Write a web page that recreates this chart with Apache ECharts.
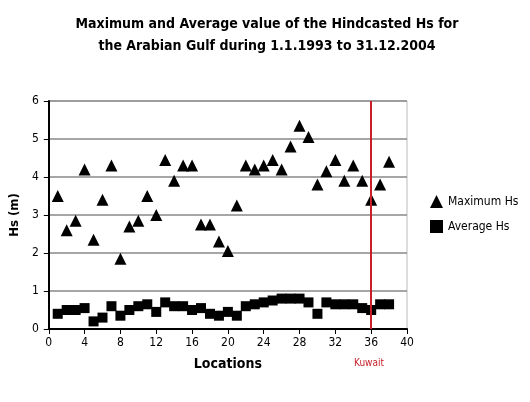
<!DOCTYPE html>
<html>
<head>
<meta charset="utf-8">
<script src="https://cdn.jsdelivr.net/npm/echarts@6/dist/echarts.min.js"></script>
<style>body{margin:0;background:#fff}#c{width:530px;height:402px}</style>
</head>
<body>
<div id="c"></div>
<script>
// locations 1..38
const locations = [1,2,3,4,5,6,7,8,9,10,11,12,13,14,15,16,17,18,19,20,21,22,23,24,25,26,27,28,29,30,31,32,33,34,35,36,37,38];
const maxHs = [3.5,2.6,2.85,4.2,2.35,3.4,4.3,1.85,2.7,2.85,3.5,3.0,4.45,3.9,4.3,4.3,2.75,2.75,2.3,2.05,3.25,4.3,4.2,4.3,4.45,4.2,4.8,5.35,5.05,3.8,4.15,4.45,3.9,4.3,3.9,3.4,3.8,4.4];
const avgHs = [0.4,0.5,0.5,0.55,0.2,0.3,0.6,0.35,0.5,0.6,0.65,0.45,0.7,0.6,0.6,0.5,0.55,0.4,0.35,0.45,0.35,0.6,0.65,0.7,0.75,0.8,0.8,0.8,0.7,0.4,0.7,0.65,0.65,0.65,0.55,0.5,0.65,0.65];
const kuwaitX = 36;

const chart = echarts.init(document.getElementById('c'));
const font = 'DejaVu Sans Condensed, DejaVu Sans, sans-serif';
chart.setOption({
  animation: false,
  title: {
    text: 'Maximum and Average value of the Hindcasted Hs for\nthe Arabian Gulf during 1.1.1993 to 31.12.2004',
    left: 262, top: 8, textAlign: 'center',
    textStyle: {fontFamily: font, fontWeight: 'bold', fontSize: 14, lineHeight: 22, color: '#000'}
  },
  legend: {
    orient: 'vertical', left: 425, top: 190, itemGap: 12, itemWidth: 13, itemHeight: 13,
    textStyle: {fontFamily: font, fontSize: 12, color: '#000'},
    data: [{name: 'Maximum Hs', icon: 'triangle'}, {name: 'Average Hs', icon: 'rect'}]
  },
  grid: {left: 44, right: 123, top: 101, bottom: 73, show: true, borderColor: '#bbb', borderWidth: 1},
  xAxis: {
    type: 'value', min: 0, max: 40, interval: 4,
    name: 'Locations', nameLocation: 'middle', nameGap: 28,
    nameTextStyle: {fontFamily: font, fontWeight: 'bold', fontSize: 14, color: '#000'},
    axisLine: {lineStyle: {color: '#000', width: 2}},
    axisTick: {show: true, length: 5, lineStyle: {color: '#000'}},
    axisLabel: {fontFamily: font, fontSize: 12, color: '#000', margin: 8},
    splitLine: {show: false}
  },
  yAxis: {
    type: 'value', min: 0, max: 6, interval: 1,
    name: 'Hs (m)', nameLocation: 'middle', nameGap: 27, nameRotate: 90,
    nameTextStyle: {fontFamily: font, fontWeight: 'bold', fontSize: 13, color: '#000'},
    axisLine: {show: true, lineStyle: {color: '#000', width: 2}},
    axisTick: {show: true, length: 5, lineStyle: {color: '#000'}},
    axisLabel: {fontFamily: font, fontSize: 12, color: '#000', margin: 10},
    splitLine: {lineStyle: {color: '#888', width: 1.5}}
  },
  series: [
    {
      name: 'Maximum Hs', type: 'scatter', symbol: 'triangle', symbolSize: 12,
      itemStyle: {color: '#000', opacity: 1},
      data: locations.map((x, i) => [x, maxHs[i]]),
      markLine: {
        silent: true, symbol: 'none', label: {show: false},
        lineStyle: {color: '#c8202a', width: 2, type: 'solid'},
        data: [{xAxis: kuwaitX}]
      }
    },
    {
      name: 'Average Hs', type: 'scatter', symbol: 'rect', symbolSize: 10,
      itemStyle: {color: '#000', opacity: 1},
      data: locations.map((x, i) => [x, avgHs[i]])
    }
  ],
  graphic: [{
    type: 'text', left: 354, top: 358,
    style: {text: 'Kuwait', fill: '#c8202a', font: '10px ' + font}
  }]
});
</script>
</body>
</html>
